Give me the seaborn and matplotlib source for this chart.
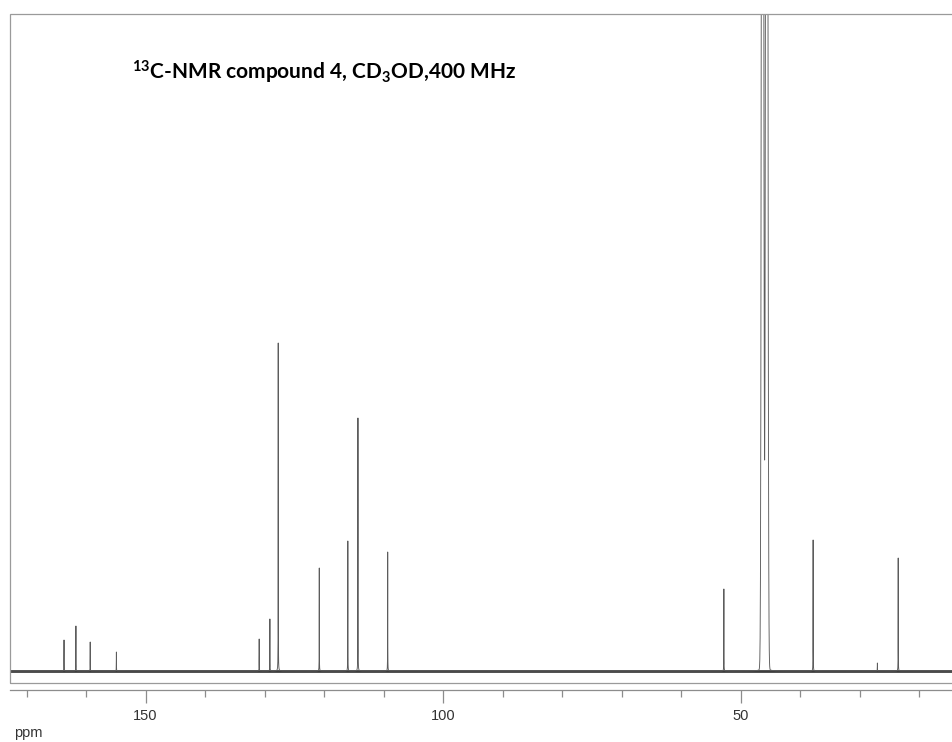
import numpy as np
import matplotlib
matplotlib.use("Agg")
import matplotlib.pyplot as plt
from matplotlib.patches import Rectangle
from matplotlib.ticker import FixedLocator
import seaborn as sns

# 13C peak list: chemical shift (ppm) and intensity (arbitrary units)
peak_ppm = [163.7, 161.7, 159.3, 154.9, 130.9, 129.1, 127.7, 120.8,
            116.0, 114.3, 109.3, 52.8, 37.8, 27.0, 23.5]
peak_height = [31, 45, 29, 19, 32, 52, 328, 103,
               130, 253, 119, 82, 131, 8, 113]

# CD3OD solvent signal (runs off the top of the plot)
solvent_ppm = [46.30, 45.60]
solvent_height = [2230, 2230]
solvent_foot_ppm = [45.95]
solvent_foot_height = [15]

# ppm axis ticks
major_ticks = [150, 100, 50]
minor_ticks = [170, 160, 140, 130, 120, 110, 90, 80, 70, 60, 40, 30, 20]

# line shapes
LINE_HWHM = 0.012       # narrow carbon lines (Lorentzian)
SOLVENT_SIGMA = 0.14    # solvent multiplet components (Gaussian)
FOOT_HWHM = 0.25        # solvent base (Lorentzian)


def lorentz(x, c, h, g):
    return h * g ** 2 / ((x - c) ** 2 + g ** 2)


def gauss(x, c, h, s):
    return h * np.exp(-0.5 * ((x - c) / s) ** 2)


ppm = np.union1d(np.linspace(12.0, 174.0, 60001), peak_ppm)
signal = np.zeros_like(ppm)
for c, h in zip(peak_ppm, peak_height):
    signal += lorentz(ppm, c, h, LINE_HWHM)
for c, h in zip(solvent_ppm, solvent_height):
    signal += gauss(ppm, c, h, SOLVENT_SIGMA)
for c, h in zip(solvent_foot_ppm, solvent_foot_height):
    signal += lorentz(ppm, c, h, FOOT_HWHM)

sns.set_theme(style="white")
plt.rcParams["font.family"] = ["Liberation Sans", "DejaVu Sans"]
plt.rcParams["mathtext.fontset"] = "custom"
plt.rcParams["mathtext.rm"] = "Lato:bold"
plt.rcParams["mathtext.bf"] = "Lato:bold"
plt.rcParams["mathtext.it"] = "Lato:bold:italic"
plt.rcParams["mathtext.default"] = "bf"

W, H = 953, 742
fig = plt.figure(figsize=(W / 100, H / 100), dpi=100)
fig.patch.set_facecolor("white")

ax_left, ax_right, ax_top, ax_bottom = 10, 963, 14, 683
ax = fig.add_axes([ax_left / W, 1 - ax_bottom / H,
                   (ax_right - ax_left) / W, (ax_bottom - ax_top) / H])
ax.set_facecolor("white")

# noisy-looking baseline band
ax.axhline(0, color="#3e3e3e", lw=2.0, zorder=1)

sns.lineplot(x=ppm, y=signal, ax=ax, color="#5c5c5c", lw=0.65,
             estimator=None, sort=False, zorder=2)

ax.set_xlim(172.78, 12.61)
ax.set_ylim(-12, 657)

# frame around the spectrum
for side in ["top", "left", "right"]:
    ax.spines[side].set_visible(False)
ax.add_patch(Rectangle((0, 0), 1, 1, transform=ax.transAxes, fill=False,
                       ec="#9a9a9a", lw=0.9, zorder=3, clip_on=False))

# separate ppm scale below the frame
ax.spines["bottom"].set_position(("outward", 5.0))
ax.spines["bottom"].set_color("#8c8c8c")
ax.spines["bottom"].set_linewidth(0.9)
ax.xaxis.set_major_locator(FixedLocator(major_ticks))
ax.xaxis.set_minor_locator(FixedLocator(minor_ticks))
ax.set_xticklabels([str(t) for t in major_ticks])
ax.tick_params(axis="x", which="major", direction="out", length=9.4,
               width=0.9, color="#8c8c8c", pad=4.3, labelsize=10.5,
               labelcolor="#333333", bottom=True)
ax.tick_params(axis="x", which="minor", direction="out", length=5.0,
               width=0.9, color="#8c8c8c", bottom=True)
ax.set_yticks([])
ax.set_xlabel("")
ax.set_ylabel("")

fig.text(14 / W, 1 - 733 / H, "ppm", ha="left", va="center",
         fontsize=10.5, color="#333333")

fig.text(132 / W, 1 - 80 / H,
         r"$^{13}$C-NMR compound 4, CD$_{3}$OD,400 MHz",
         ha="left", va="baseline", fontsize=15, fontweight="bold",
         family="Lato", color="black")

fig.savefig("out.png", dpi=100, facecolor="white")
